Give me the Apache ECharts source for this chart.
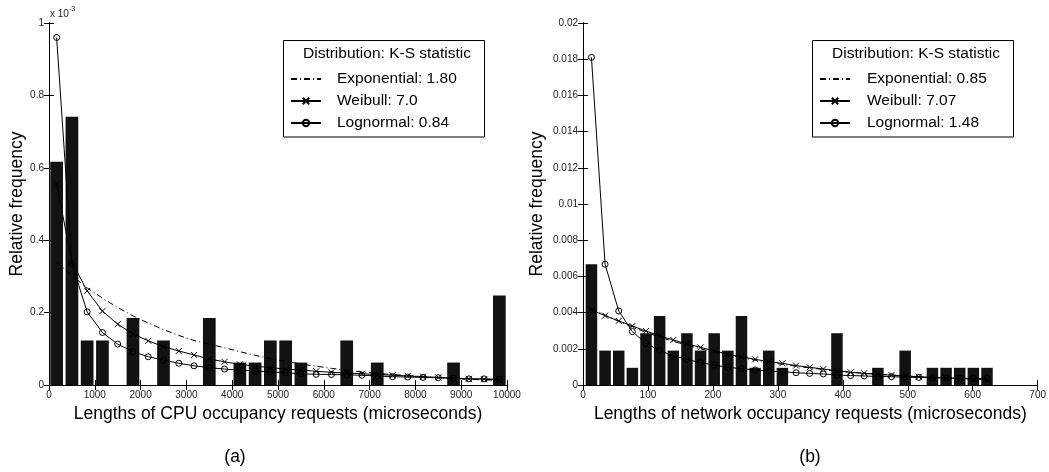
<!DOCTYPE html>
<html>
<head>
<meta charset="utf-8">
<script src="https://cdn.jsdelivr.net/npm/echarts@6/dist/echarts.min.js"></script>
<style>
html,body{margin:0;padding:0;background:#fff;}
#chart{width:1049px;height:472px;}
</style>
</head>
<body>
<div id="chart"></div>
<script>
// ---- (a) CPU occupancy: bin centres (microseconds), values in units of 1e-3 ----
const cpuBins = [167,500,833,1167,1500,1833,2167,2500,2833,3167,3500,3833,4167,4500,4833,5167,5500,5833,6167,6500,6833,7167,7500,7833,8167,8500,8833,9167,9500,9833];
const cpuFreq = [0.617,0.741,0.123,0.123,0,0.185,0,0.123,0,0,0.185,0,0.062,0.062,0.123,0.123,0.062,0,0,0.123,0,0.062,0,0,0,0,0.062,0,0,0.247];
const cpuExpo = [0.34,0.302,0.268,0.240,0.214,0.191,0.171,0.153,0.137,0.123,0.113,0.103,0.092,0.082,0.073,0.065,0.058,0.052,0.046,0.041,0.036,0.032,0.029,0.026,0.023,0.020,0.018,0.016,0.014,0.013];
const cpuWeib = [0.555,0.34,0.26,0.204,0.168,0.141,0.122,0.106,0.094,0.083,0.072,0.064,0.057,0.052,0.048,0.044,0.041,0.038,0.035,0.033,0.031,0.029,0.027,0.025,0.023,0.021,0.019,0.017,0.016,0.014];
const cpuLogn = [0.96,0.335,0.202,0.145,0.113,0.092,0.078,0.069,0.060,0.053,0.048,0.044,0.041,0.039,0.036,0.034,0.031,0.0295,0.029,0.028,0.027,0.025,0.023,0.022,0.021,0.020,0.018,0.017,0.017,0.016];
const cpuNames = ['Exponential: 1.80','Weibull: 7.0','Lognormal: 0.84'];

// ---- (b) network occupancy ----
const netBins = [13,34,55,76,97,118,139,160,181,202,223,244,265,286,307,328,349,370,391,412,433,454,475,496,517,538,559,580,601,622];
const netFreq = [0.00667,0.0019,0.0019,0.00095,0.00286,0.00381,0.0019,0.00286,0.0019,0.00286,0.0019,0.00381,0.00095,0.0019,0.00095,0,0,0,0.00286,0,0,0.00095,0,0.0019,0,0.00095,0.00095,0.00095,0.00095,0.00095];
const netExpo = [0.00424,0.00386,0.00352,0.0032,0.00291,0.00265,0.00241,0.0022,0.002,0.00182,0.00166,0.00151,0.00137,0.00125,0.00114,0.00104,0.00094,0.00086,0.00078,0.00071,0.00065,0.00059,0.00054,0.00049,0.00044,0.0004,0.00037,0.00033,0.0003,0.00028];
const netWeib = [0.00414,0.00383,0.00354,0.00326,0.00298,0.00272,0.00249,0.00227,0.00208,0.00188,0.00171,0.00156,0.00142,0.00129,0.0012,0.00107,0.00098,0.00088,0.00079,0.0007,0.00065,0.00059,0.00055,0.0005,0.00046,0.00042,0.00039,0.00036,0.00033,0.0003];
const netLogn = [0.0181,0.00667,0.00409,0.00295,0.0023,0.0019,0.00162,0.00142,0.00123,0.0011,0.00098,0.0009,0.00083,0.00077,0.00073,0.00068,0.00064,0.00061,0.00055,0.00052,0.0005,0.00047,0.00046,0.00043,0.00042,0.0004,0.00039,0.00037,0.00036,0.00035];
const netNames = ['Exponential: 0.85','Weibull: 7.07','Lognormal: 1.48'];

const legendTitle = 'Distribution: K-S statistic';
const xTitles = ['Lengths of CPU occupancy requests (microseconds)','Lengths of network occupancy requests (microseconds)'];
const yTitle = 'Relative frequency';
const panelLabels = ['(a)','(b)'];

const FONT = '"Liberation Sans", Arial, Helvetica, sans-serif';
const zip = (xs, ys) => xs.map((x, i) => [x, ys[i]]);
const X_PATH = 'path://M0,0L10,10M0,10L10,0';

function mainX(grid, max, interval, name) {
  return {
    gridIndex: grid, type: 'value', min: 0, max: max, interval: interval, position: 'bottom',
    axisLine: {show: true, lineStyle: {color: '#000', width: 1}},
    axisTick: {show: true, inside: true, length: 5, lineStyle: {color: '#000'}},
    axisLabel: {show: true, fontSize: 10, color: '#222', margin: 5, fontFamily: FONT, formatter: v => String(v)},
    splitLine: {show: false},
    name: name, nameLocation: 'middle', nameGap: 15,
    nameTextStyle: {fontSize: 17.5, color: '#000', fontFamily: FONT}
  };
}
function mirrorX(grid, max, interval) {
  return {
    gridIndex: grid, type: 'value', min: 0, max: max, interval: interval, position: 'top',
    axisLine: {show: true, lineStyle: {color: '#000', width: 1}},
    axisTick: {show: true, inside: true, length: 5, lineStyle: {color: '#000'}},
    axisLabel: {show: false}, splitLine: {show: false}
  };
}
function mainY(grid, max, interval, gap) {
  return {
    gridIndex: grid, type: 'value', min: 0, max: max, interval: interval, position: 'left',
    axisLine: {show: true, lineStyle: {color: '#000', width: 1}},
    axisTick: {show: true, inside: true, length: 5, lineStyle: {color: '#000'}},
    axisLabel: {show: true, fontSize: 10, color: '#222', margin: 5, fontFamily: FONT, formatter: v => String(v)},
    splitLine: {show: false},
    name: yTitle, nameLocation: 'middle', nameGap: gap,
    nameTextStyle: {fontSize: 17.5, color: '#000', fontFamily: FONT}
  };
}
function mirrorY(grid, max, interval) {
  return {
    gridIndex: grid, type: 'value', min: 0, max: max, interval: interval, position: 'right',
    axisLine: {show: true, lineStyle: {color: '#000', width: 1}},
    axisTick: {show: true, inside: true, length: 5, lineStyle: {color: '#000'}},
    axisLabel: {show: false}, splitLine: {show: false}
  };
}
function curves(xi, yi, bins, names, expo, weib, logn) {
  const base = {type: 'line', xAxisIndex: xi, yAxisIndex: yi, z: 3, silent: true, animation: false};
  return [
    Object.assign({}, base, {name: names[0], data: zip(bins, expo), symbol: 'none',
      lineStyle: {color: '#000', width: 1, type: [6, 3, 1, 3]}, itemStyle: {color: 'transparent'}}),
    Object.assign({}, base, {name: names[1], data: zip(bins, weib), symbol: X_PATH, symbolSize: 6,
      lineStyle: {color: '#000', width: 1}, itemStyle: {color: 'transparent', borderColor: '#000', borderWidth: 1}}),
    Object.assign({}, base, {name: names[2], data: zip(bins, logn), symbol: 'circle', symbolSize: 6,
      lineStyle: {color: '#000', width: 1}, itemStyle: {color: 'transparent', borderColor: '#000', borderWidth: 1}})
  ];
}
function legendFor(left, names, pad) {
  return {
    left: left, top: 66, orient: 'vertical', itemWidth: 30, itemHeight: 8, itemGap: 6,
    selectedMode: false,
    textStyle: {fontSize: 15.5, color: '#000', fontFamily: FONT, padding: [0, 0, 0, pad]},
    data: [
      {name: names[0], itemStyle: {color: 'transparent', borderWidth: 0}},
      {name: names[1]},
      {name: names[2]}
    ]
  };
}

const option = {
  animation: false,
  backgroundColor: '#fff',
  textStyle: {fontFamily: FONT},
  grid: [
    {left: 49, top: 23, width: 458, height: 362},
    {left: 583, top: 23, width: 458, height: 362}
  ],
  xAxis: [mainX(0, 10000, 1000, xTitles[0]), mirrorX(0, 10000, 1000),
          mainX(1, 700, 100, xTitles[1]), mirrorX(1, 700, 100)],
  yAxis: [mainY(0, 1, 0.2, 21), mirrorY(0, 1, 0.2),
          mainY(1, 0.02, 0.002, 37), mirrorY(1, 0.02, 0.002)],
  legend: [legendFor(285, cpuNames, 11), legendFor(814, netNames, 12)],
  series: [].concat(
    [{type: 'bar', name: 'cpu histogram', xAxisIndex: 0, yAxisIndex: 0, data: zip(cpuBins, cpuFreq),
      barWidth: 12.7, itemStyle: {color: '#121212'}, z: 1, silent: true}],
    curves(0, 0, cpuBins, cpuNames, cpuExpo, cpuWeib, cpuLogn),
    [{type: 'bar', name: 'net histogram', xAxisIndex: 2, yAxisIndex: 2, data: zip(netBins, netFreq),
      barWidth: 11.5, itemStyle: {color: '#121212'}, z: 1, silent: true}],
    curves(2, 2, netBins, netNames, netExpo, netWeib, netLogn)
  ),
  graphic: [
    {type: 'rect', shape: {x: 283.5, y: 40.5, width: 201, height: 96.5}, style: {fill: 'transparent', stroke: '#000', lineWidth: 1}, z: 10},
    {type: 'rect', shape: {x: 812.5, y: 40.5, width: 201, height: 96.5}, style: {fill: 'transparent', stroke: '#000', lineWidth: 1}, z: 10},
    {type: 'text', x: 303, y: 54, style: {text: legendTitle, fontSize: 15.5, fill: '#000', fontFamily: FONT, verticalAlign: 'middle'}, z: 10},
    {type: 'text', x: 832, y: 54, style: {text: legendTitle, fontSize: 15.5, fill: '#000', fontFamily: FONT, verticalAlign: 'middle'}, z: 10},
    {type: 'text', x: 50, y: 14, style: {text: 'x 10', fontSize: 10, fill: '#222', fontFamily: FONT, verticalAlign: 'middle'}},
    {type: 'text', x: 69, y: 9, style: {text: '-3', fontSize: 7, fill: '#222', fontFamily: FONT, verticalAlign: 'middle'}},
    {type: 'text', x: 235, y: 457, style: {text: panelLabels[0], fontSize: 17.5, fill: '#000', fontFamily: FONT, align: 'center', verticalAlign: 'middle'}},
    {type: 'text', x: 810, y: 457, style: {text: panelLabels[1], fontSize: 17.5, fill: '#000', fontFamily: FONT, align: 'center', verticalAlign: 'middle'}}
  ]
};

const chart = echarts.init(document.getElementById('chart'), null, {renderer: 'canvas'});
chart.setOption(option);
</script>
</body>
</html>
